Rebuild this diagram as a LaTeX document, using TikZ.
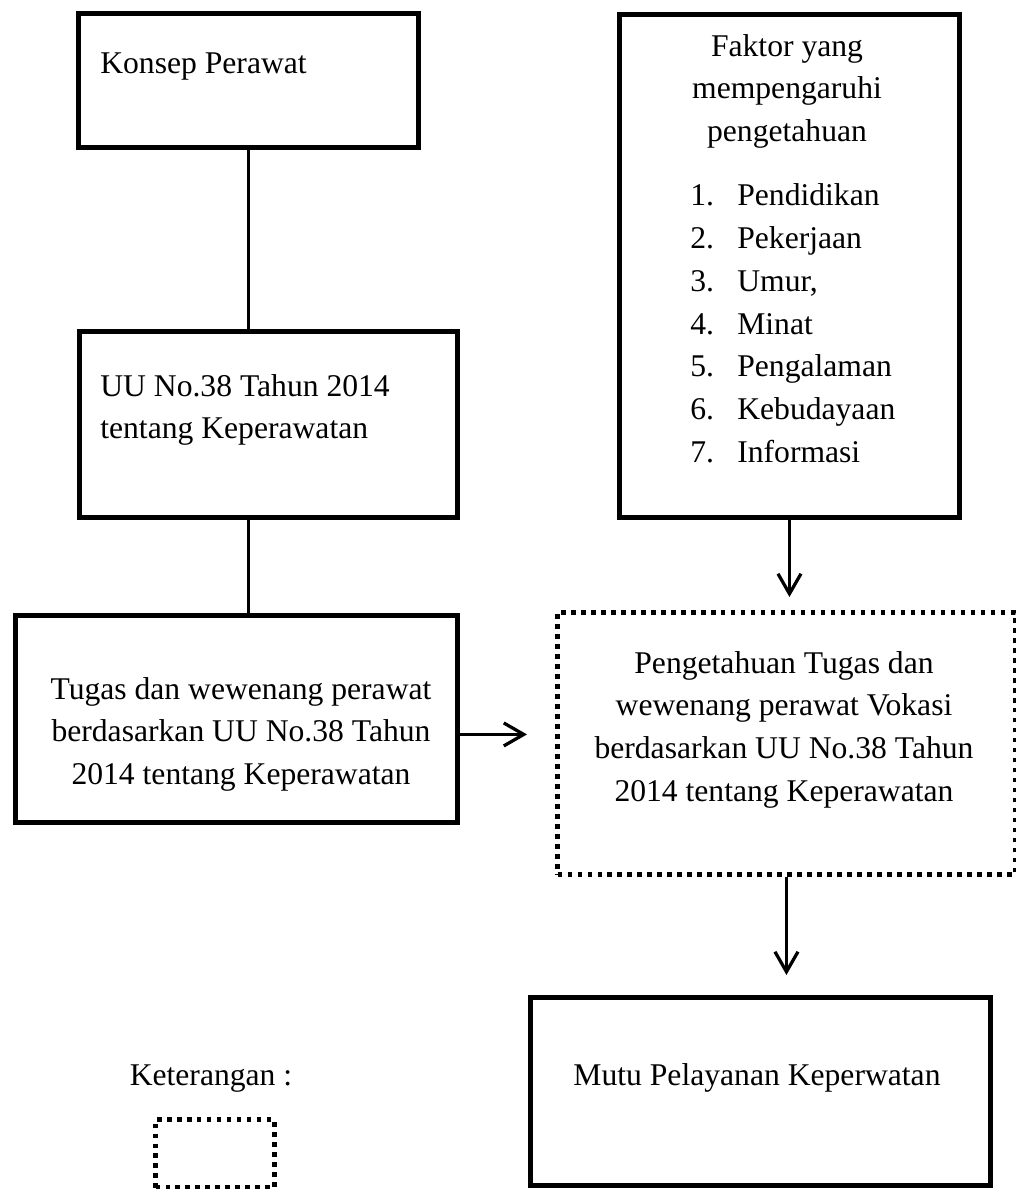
\documentclass[tikz,border=0pt]{standalone}
\usepackage{fontspec}
\setmainfont{Liberation Serif}
\usepackage{tikz}
\usetikzlibrary{arrows.meta, positioning}

\begin{document}
\begin{tikzpicture}[x=0.02cm, y=-0.02cm,
    kotak/.style={draw=black, line width=0.1cm, inner sep=0pt,
                  anchor=north west},
    kotakTitik/.style={kotak, dash pattern=on 0.09cm off 0.11cm},
    teks/.style={inner sep=0pt, font=\fontsize{18}{24.3}\selectfont},
    garis/.style={line width=0.065cm},
    panah/.style={garis, -{Straight Barb[length=0.4cm, width=0.46cm]}}]

  \useasboundingbox (0,0) rectangle (1015,1189);

  % kotak-kotak
  \node[kotak, minimum width=6.8cm, minimum height=2.68cm]  (konsep) at (76,11)   {};
  \node[kotak, minimum width=7.56cm, minimum height=3.72cm] (uu)     at (77,329)  {};
  \node[kotak, minimum width=8.84cm, minimum height=4.14cm] (tugas)  at (13,613)  {};
  \node[kotak, minimum width=6.8cm, minimum height=10.06cm] (faktor) at (617,12)  {};
  \node[kotakTitik, minimum width=9.16cm, minimum height=5.24cm] (tahu) at (555,610) {};
  \node[kotak, minimum width=9.2cm, minimum height=3.76cm]  (mutu)   at (528,995) {};
  \node[kotakTitik, minimum width=2.38cm, minimum height=1.36cm] (legenda) at (153,1117) {};

  % isi teks
  \node[teks, anchor=base west] (konsepTeks) at (100,74) {Konsep Perawat};
  \node[teks, anchor=north west, align=left] (uuTeks) at (100,374)
    {UU No.38 Tahun 2014\\tentang Keperawatan};
  \node[teks, anchor=north, align=center] (tugasTeks) at (241,677)
    {Tugas dan wewenang perawat\\berdasarkan UU No.38 Tahun\\2014 tentang Keperawatan};
  \node[teks, anchor=north, align=center] (faktorJudul) at (787,34)
    {Faktor yang\\mempengaruhi\\pengetahuan};
  \node[teks, anchor=base west] (faktorDaftar) at (690,206) {%
    \begin{tabular}[t]{@{}p{0.94cm}@{}l@{}}
      1. & Pendidikan\\
      2. & Pekerjaan\\
      3. & Umur,\\
      4. & Minat\\
      5. & Pengalaman\\
      6. & Kebudayaan\\
      7. & Informasi
    \end{tabular}};
  \node[teks, anchor=north, align=center] (tahuTeks) at (784,651)
    {Pengetahuan Tugas dan\\wewenang perawat Vokasi\\berdasarkan UU No.38 Tahun\\2014 tentang Keperawatan};
  \node[teks, anchor=base] (mutuTeks) at (757,1085) {Mutu Pelayanan Keperwatan};
  \node[teks, anchor=base] (ketTeks) at (211,1085) {Keterangan :};

  % penghubung
  \draw[garis] (konsep.south) -- (konsep.south |- uu.north);
  \draw[garis] (konsep.south |- uu.south) -- (konsep.south |- tugas.north);
  \draw[panah, shorten >=0.56cm] (tugas.east |- tugasTeks) -- (tahu.west |- tugasTeks);
  \draw[panah, shorten >=0.26cm] (faktor.south) -- (faktor.south |- tahu.north);
  \draw[panah, shorten >=0.4cm] (tahu.south) -- (tahu.south |- mutu.north);
\end{tikzpicture}
\end{document}
